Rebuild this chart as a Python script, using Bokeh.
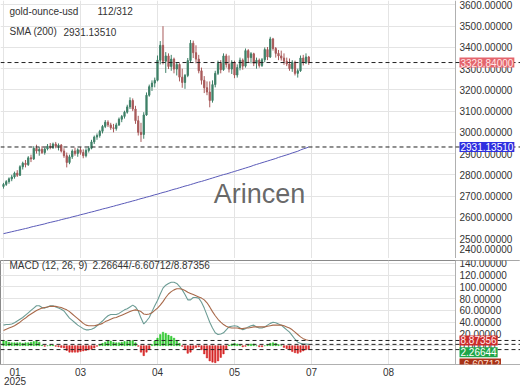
from bokeh.plotting import figure
from bokeh.models import Range1d, Span, Label, FixedTicker, ColumnDataSource, PrintfTickFormatter, BoxAnnotation
from bokeh.layouts import column
from bokeh.embed import file_html
from bokeh.resources import INLINE

# ---------------- data ----------------
opens = [2745, 2755, 2768, 2781, 2790, 2808, 2798, 2838, 2855, 2848, 2880, 2875, 2925, 2912, 2920, 2905,
         2922, 2935, 2928, 2945, 2935, 2940, 2912, 2890, 2858, 2885, 2912, 2900, 2918, 2905, 2890, 2915,
         2925, 2955, 2978, 2985, 3005, 3028, 3048, 3035, 3022, 3018, 3035, 3062, 3075, 3095, 3120, 3150,
         3110, 3055, 3000, 2990, 3082, 3175, 3215, 3232, 3245, 3340, 3410, 3335, 3360, 3310, 3345, 3298,
         3320, 3260, 3235, 3268, 3338, 3420, 3375, 3345, 3290, 3245, 3210, 3190, 3150, 3225, 3278, 3325,
         3295, 3360, 3320, 3298, 3330, 3270, 3305, 3340, 3312, 3385, 3352, 3370, 3325, 3340, 3315, 3342,
         3390, 3355, 3440, 3395, 3372, 3360, 3350, 3335, 3322, 3300, 3330, 3278, 3290, 3350, 3328, 3355]
highs = [2762, 2775, 2788, 2800, 2815, 2822, 2845, 2862, 2870, 2888, 2895, 2935, 2942, 2930, 2935, 2928,
         2945, 2950, 2952, 2955, 2948, 2945, 2925, 2905, 2895, 2920, 2928, 2925, 2930, 2920, 2925, 2935,
         2965, 2985, 2995, 3012, 3035, 3058, 3057, 3045, 3040, 3045, 3070, 3082, 3102, 3130, 3165, 3160,
         3125, 3078, 3045, 3095, 3188, 3225, 3245, 3258, 3362, 3430, 3500, 3378, 3372, 3365, 3352, 3330,
         3325, 3300, 3275, 3350, 3435, 3432, 3410, 3365, 3305, 3265, 3240, 3240, 3245, 3290, 3338, 3340,
         3372, 3370, 3362, 3340, 3338, 3320, 3352, 3348, 3395, 3392, 3378, 3375, 3352, 3348, 3350, 3400,
         3402, 3450, 3445, 3402, 3388, 3385, 3372, 3352, 3348, 3340, 3338, 3300, 3362, 3365, 3372, 3360]
lows = [2735, 2748, 2758, 2770, 2782, 2790, 2795, 2825, 2835, 2842, 2860, 2870, 2900, 2890, 2898, 2895,
        2915, 2920, 2922, 2925, 2915, 2905, 2880, 2835, 2850, 2875, 2890, 2885, 2895, 2878, 2882, 2905,
        2920, 2945, 2965, 2975, 2995, 3020, 3025, 3012, 3000, 3008, 3030, 3048, 3065, 3088, 3110, 3100,
        3040, 2985, 2955, 2970, 3078, 3168, 3195, 3212, 3240, 3320, 3320, 3280, 3298, 3290, 3278, 3268,
        3240, 3210, 3205, 3260, 3330, 3350, 3325, 3278, 3225, 3185, 3175, 3118, 3140, 3212, 3270, 3278,
        3290, 3305, 3282, 3275, 3255, 3258, 3292, 3295, 3305, 3330, 3325, 3312, 3300, 3305, 3308, 3330,
        3340, 3350, 3385, 3352, 3340, 3338, 3318, 3312, 3290, 3285, 3268, 3258, 3285, 3315, 3322, 3318]
closes = [2755, 2768, 2781, 2790, 2808, 2798, 2838, 2855, 2848, 2880, 2875, 2925, 2912, 2920, 2905, 2922,
          2935, 2928, 2945, 2935, 2940, 2912, 2890, 2858, 2885, 2912, 2900, 2918, 2905, 2890, 2915, 2925,
          2955, 2978, 2985, 3005, 3028, 3048, 3035, 3022, 3018, 3035, 3062, 3075, 3095, 3120, 3150, 3110,
          3055, 3000, 2990, 3082, 3175, 3215, 3232, 3245, 3340, 3410, 3335, 3360, 3310, 3345, 3298, 3320,
          3260, 3235, 3268, 3338, 3420, 3375, 3345, 3290, 3245, 3210, 3190, 3150, 3225, 3278, 3325, 3295,
          3360, 3320, 3298, 3330, 3270, 3305, 3340, 3312, 3385, 3352, 3370, 3325, 3340, 3315, 3342, 3390,
          3355, 3440, 3395, 3372, 3360, 3350, 3335, 3322, 3300, 3330, 3278, 3290, 3350, 3328, 3355, 3328.84]
sma200 = [2523, 2526, 2529, 2532, 2535, 2538, 2541, 2544, 2547, 2550, 2554, 2557, 2560, 2563, 2566, 2569,
          2573, 2576, 2579, 2582, 2585, 2589, 2592, 2595, 2598, 2602, 2605, 2608, 2612, 2615, 2618, 2622,
          2625, 2628, 2632, 2635, 2639, 2642, 2645, 2649, 2652, 2656, 2659, 2663, 2666, 2670, 2673, 2677,
          2680, 2684, 2688, 2691, 2695, 2698, 2702, 2706, 2709, 2713, 2717, 2720, 2724, 2728, 2732, 2735,
          2739, 2743, 2747, 2750, 2754, 2758, 2762, 2766, 2769, 2773, 2777, 2781, 2785, 2789, 2793, 2797,
          2801, 2804, 2808, 2812, 2816, 2820, 2824, 2828, 2832, 2836, 2840, 2845, 2849, 2853, 2857, 2861,
          2865, 2869, 2873, 2877, 2882, 2886, 2890, 2894, 2898, 2903, 2907, 2911, 2917, 2922, 2926, 2931.1351]
macd_line = [35, 36, 36, 37, 39, 42, 45, 48, 52, 56, 60, 64, 68, 68, 65, 64,
             66, 68, 68, 66, 64, 62, 59, 53, 47, 43, 39, 35, 32, 29, 27, 27,
             28, 30, 34, 38, 42, 47, 51, 53, 53, 53, 55, 58, 61, 63, 66, 69,
             66, 59, 47, 37, 42, 48, 58, 68, 77, 88, 98, 103, 106, 108, 108, 106,
             101, 95, 87, 78, 78, 82, 82, 81, 74, 64, 52, 40, 30, 22, 19, 20,
             22, 27, 32, 33, 34, 33, 30, 27, 29, 32, 34, 35, 32, 30, 30, 32,
             35, 38, 40, 39, 37, 35, 31, 27, 23, 17, 11, 6, 4, 3, 3, 2.26644]
signal_line = [26, 28, 30, 32, 34, 37, 40, 44, 47, 51, 54, 57, 60, 62, 64, 65,
               66, 67, 67, 67, 66, 65, 63, 61, 58, 54, 50, 46, 42, 38, 35, 34,
               34, 34, 35, 36, 38, 41, 43, 45, 47, 48, 50, 52, 54, 56, 58, 60,
               61, 60, 58, 54, 53, 54, 56, 60, 64, 69, 75, 82, 88, 92, 95, 97,
               97, 96, 94, 91, 89, 87, 85, 83, 81, 78, 73, 66, 58, 51, 45, 40,
               36, 33, 31, 30, 30, 30, 29, 29, 30, 30, 31, 32, 32, 32, 32, 32,
               33, 34, 35, 35, 35, 35, 34, 32, 30, 27, 23, 19, 15, 12, 10, 8.87356]
hist = [9, 8, 6, 5, 5, 5, 5, 4, 5, 5, 6, 7, 8, 6, 1, -1,
        0, 1, 1, -1, -2, -3, -4, -8, -11, -11, -11, -11, -10, -9, -8, -7,
        -6, -4, -1, 2, 4, 6, 8, 8, 6, 5, 5, 6, 7, 7, 8, 9,
        5, -1, -11, -17, -11, -6, 2, 8, 13, 19, 23, 21, 18, 16, 13, 9,
        4, -1, -7, -13, -11, -5, -3, -2, -7, -14, -21, -26, -28, -29, -26, -20,
        -14, -6, 1, 3, 4, 3, 1, -2, -1, 2, 3, 3, 0, -2, -2, 0,
        2, 4, 5, 4, 2, 0, -3, -5, -7, -10, -12, -13, -11, -9, -7, -6.60712]

price_ticks = [2500, 2600, 2700, 2800, 2900, 3000, 3100, 3200, 3300, 3400, 3500, 3600]
bottom_price_label = 2400
macd_ticks = [0, 20, 40, 60, 80, 100, 120, 140]
grid_idx = [0, 28, 56, 84, 112, 140]
label_idx = [4.2, 28, 56, 84, 112, 140]
tick_labels = ["01\n2025", "03", "04", "05", "07", "08"]
symbol = "gold-ounce-usd"
counter = "112/312"

FONT = "Liberation Sans"
TXT = "#333333"
UP, DOWN = "#3f8068", "#a85a5a"
GRID = "#e4e4e4"
AXIS_LINE = "#b0b0b0"

# horizontal geometry: bar spacing in px, frame covers the full width, value axis at px 455
BAR_PX = 2.75
X0 = -1.09
X_END = X0 + 520 / BAR_PX
X_AXIS = X0 + 455 / BAR_PX

idx = list(range(len(closes)))
src = ColumnDataSource(dict(
    x=idx, o=opens, h=highs, l=lows, c=closes,
    top=[max(a, b) for a, b in zip(opens, closes)],
    bot=[min(a, b) for a, b in zip(opens, closes)],
    col=[UP if c >= o else DOWN for o, c in zip(opens, closes)],
))

xr = Range1d(X0, X_END)


def style_value_axis(p, ticks):
    ax = p.yaxis[0]
    ax.fixed_location = X_AXIS
    ax.ticker = FixedTicker(ticks=ticks)
    ax.formatter = PrintfTickFormatter(format="%.5f")
    ax.major_label_text_font = FONT
    ax.major_label_text_font_size = "10px"
    ax.major_label_text_color = TXT
    ax.major_tick_line_color = None
    ax.minor_tick_line_color = None
    ax.major_tick_out = 0
    ax.major_tick_in = 0
    ax.axis_line_color = AXIS_LINE
    ax.major_label_standoff = 4
    p.ygrid.grid_line_color = GRID
    p.xgrid.grid_line_color = GRID
    p.xgrid.ticker = FixedTicker(ticks=grid_idx)
    # keep the label strip right of the value axis free of grid lines
    p.add_layout(BoxAnnotation(left=X_AXIS, fill_color="white", fill_alpha=1.0,
                               line_color=None, level="underlay"))


def tag(p, yv, txt, bg, fg, yoff=0):
    p.add_layout(Label(x=X_AXIS, y=yv, x_offset=4, y_offset=yoff, text=txt,
                       text_font=FONT, text_font_size="10px", text_color=fg,
                       text_align="left", text_baseline="middle",
                       background_fill_color=bg, padding=1))


def txt(p, x, y, s, size="10px", color=TXT, align="left", alpha=1.0):
    p.add_layout(Label(x=x, y=y, x_units="screen", y_units="screen", text=s,
                       text_font=FONT, text_font_size=size, text_color=color,
                       text_align=align, text_baseline="middle", text_alpha=alpha))


# ---------------- main price panel ----------------
p1 = figure(width=520, height=258, x_range=xr, y_range=Range1d(2406, 3621),
            x_axis_location=None, y_axis_location="right", toolbar_location=None,
            output_backend="svg", min_border_left=0, min_border_right=0,
            min_border_top=0, min_border_bottom=0)
p1.outline_line_color = None
style_value_axis(p1, price_ticks)

p1.segment(x0="x", y0="l", x1="x", y1="h", color="col", line_width=1, source=src)
p1.vbar(x="x", top="top", bottom="bot", width=0.45, fill_color="col", line_color="col", source=src)
p1.line(idx, sma200, line_color="#5a5ab8", line_width=1)

last_close = closes[-1]
last_sma = sma200[-1]
p1.add_layout(Span(location=last_close, dimension="width", line_color="#222222", line_dash="4 3", line_width=1))
p1.add_layout(Span(location=last_sma, dimension="width", line_color="#222222", line_dash="4 3", line_width=1))

tag(p1, last_close, "%.5f" % last_close, "#e4656d", "#ffe8e8")
tag(p1, last_sma, "%.5f" % last_sma, "#2f2fe0", "#ffffff")
p1.add_layout(Label(x=X_AXIS, y=bottom_price_label, x_offset=4, y_offset=11,
                    text="%.5f" % bottom_price_label, text_font=FONT, text_font_size="10px",
                    text_color=TXT, text_align="left", text_baseline="middle"))

txt(p1, 9, 247, symbol)
txt(p1, 97, 247, counter)
txt(p1, 9, 227, "SMA (200)")
txt(p1, 63, 227, "%.5f" % last_sma)
txt(p1, 259, 65, "Arincen", size="27px", color="#555555", align="center", alpha=0.9)

# ---------------- MACD panel ----------------
p2 = figure(width=520, height=132, x_range=xr, y_range=Range1d(-32, 145),
            y_axis_location="right", toolbar_location=None, output_backend="svg",
            min_border_left=0, min_border_right=0, min_border_top=2, min_border_bottom=20)
p2.outline_line_color = "#8a8a8a"
style_value_axis(p2, macd_ticks)
p2.xaxis.ticker = FixedTicker(ticks=label_idx)
p2.xaxis.major_label_overrides = {t: l for t, l in zip(label_idx, tick_labels)}
p2.xaxis.major_label_text_font = FONT
p2.xaxis.major_label_text_font_size = "10px"
p2.xaxis.major_label_text_color = TXT
p2.xaxis.major_label_text_line_height = 0.9
p2.xaxis.major_tick_line_color = None
p2.xaxis.minor_tick_line_color = None
p2.xaxis.major_tick_out = 0
p2.xaxis.major_tick_in = 0
p2.xaxis.axis_line_color = AXIS_LINE
p2.xaxis.major_label_standoff = 2

hsrc = ColumnDataSource(dict(
    x=idx, h=hist,
    c=["#2fc52f" if v >= 0 else "#d42424" for v in hist],
    halo=["#c6f4c6" if v >= 0 else "#f9c9c9" for v in hist],
))
p2.vbar(x="x", top="h", bottom=0, width=1.0, fill_color="halo", line_color=None, source=hsrc)
p2.vbar(x="x", top="h", bottom=0, width=0.45, fill_color="c", line_color="c", line_width=0.5, source=hsrc)
p2.line(idx, macd_line, line_color="#6c9c95", line_width=1.1)
p2.line(idx, signal_line, line_color="#a8694a", line_width=1.1)

for v in (signal_line[-1], macd_line[-1], hist[-1]):
    p2.add_layout(Span(location=v, dimension="width", line_color="#222222", line_dash="4 3", line_width=1))

tag(p2, signal_line[-1], "%.5f" % signal_line[-1], "#cc2b2b", "#ffecec")
tag(p2, macd_line[-1], "%.5f" % macd_line[-1], "#1fa64a", "#ffffff", yoff=-8)
tag(p2, hist[-1], "%.5f" % hist[-1], "#a83218", "#ffe0d0", yoff=-14)

txt(p2, 9, 99, "MACD (12, 26, 9)")
txt(p2, 92, 99, "%.5f/%.5f/%.5f" % (macd_line[-1], hist[-1], signal_line[-1]))

layout = column(p1, p2, spacing=0)
open("out.html", "w").write(file_html(layout, INLINE))
